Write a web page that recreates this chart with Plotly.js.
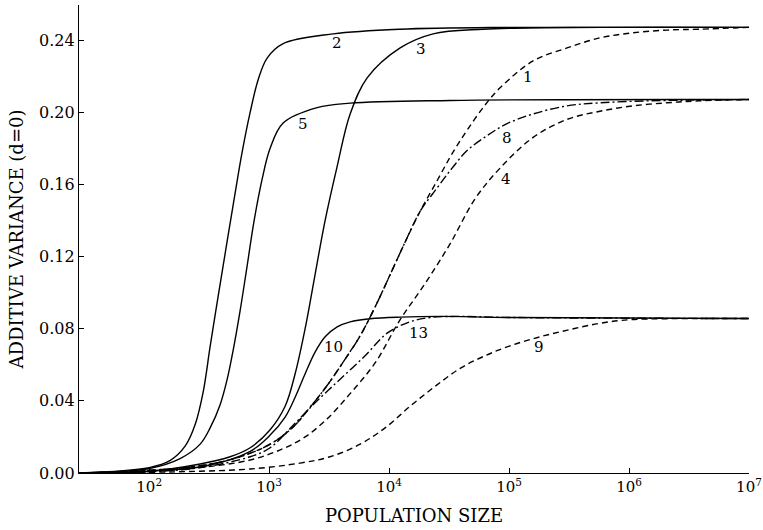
<!DOCTYPE html>
<html>
<head>
<meta charset="utf-8">
<script src="https://cdn.plot.ly/plotly-3.0.1.min.js"></script>
<style>html,body{margin:0;padding:0;background:#fff;}#chart{width:763px;height:530px;}</style>
</head>
<body>
<div id="chart"></div>
<script>
// Population size (N) and additive variance for each numbered curve
const n1 = [26, 100, 266, 573, 1019, 1585, 2197, 3043, 4285, 5731, 7638, 13600, 18120, 25120, 33500, 44670, 63100, 84140, 158500, 304300, 572800, 1080000, 2073000, 3905000, 1e7];
const v1 = [0, 0.0015, 0.004, 0.009, 0.016, 0.0255, 0.0365, 0.0485, 0.063, 0.076, 0.092, 0.128, 0.145, 0.162, 0.177, 0.19, 0.204, 0.2135, 0.2284, 0.2356, 0.2412, 0.244, 0.2455, 0.246, 0.247];

const n2 = [26, 100, 150, 200, 242, 282, 322, 376, 438, 511, 596, 695, 810, 962, 1309, 3415, 12360, 101900, 1e7];
const v2 = [0, 0.003, 0.007, 0.015, 0.027, 0.045, 0.07, 0.098, 0.125, 0.152, 0.178, 0.2, 0.218, 0.23, 0.238, 0.2434, 0.246, 0.247, 0.247];

const n3 = [26, 100, 266, 473, 695, 1019, 1359, 1647, 1995, 2415, 2929, 3690, 4732, 6561, 12360, 23270, 60720, 572800, 1e7];
const v3 = [0, 0.001, 0.005, 0.009, 0.014, 0.024, 0.037, 0.055, 0.08, 0.11, 0.14, 0.17, 0.199, 0.219, 0.2356, 0.2434, 0.246, 0.247, 0.247];

const n4 = [26, 100, 266, 695, 1309, 1995, 3043, 4732, 7638, 12360, 19950, 32210, 52100, 84140, 158500, 304300, 572800, 1080000, 2073000, 3905000, 1e7];
const v4 = [0, 0.0008, 0.003, 0.0072, 0.0135, 0.02, 0.03, 0.044, 0.061, 0.085, 0.105, 0.127, 0.152, 0.169, 0.186, 0.196, 0.2005, 0.2035, 0.2052, 0.2063, 0.207];

const n5 = [26, 100, 181, 266, 322, 391, 447, 501, 573, 656, 750, 875, 1019, 1309, 2512, 4732, 32210, 1e7];
const v5 = [0, 0.0025, 0.008, 0.016, 0.025, 0.038, 0.052, 0.068, 0.09, 0.115, 0.14, 0.163, 0.18, 0.194, 0.2025, 0.205, 0.2065, 0.207];

const n8 = [26, 100, 266, 573, 1019, 1585, 2197, 3043, 4285, 5731, 7638, 13600, 18120, 25120, 33500, 44670, 65600, 96190, 158500, 304300, 572800, 1496000, 1e7];
const v8 = [0, 0.0015, 0.004, 0.009, 0.016, 0.0255, 0.0365, 0.0485, 0.063, 0.076, 0.092, 0.128, 0.145, 0.158, 0.169, 0.1787, 0.187, 0.1936, 0.199, 0.2035, 0.2052, 0.2063, 0.207];

const n9 = [26, 100, 266, 695, 1812, 3222, 5731, 9260, 14960, 24150, 39060, 63100, 101900, 181300, 322400, 572800, 1020000, 3905000, 1e7];
const v9 = [0, 0.0004, 0.001, 0.0022, 0.0055, 0.009, 0.016, 0.025, 0.037, 0.048, 0.058, 0.065, 0.0705, 0.0755, 0.0795, 0.083, 0.085, 0.0856, 0.0856];

const n10 = [26, 100, 300, 695, 1019, 1359, 1647, 1995, 2415, 2929, 3690, 4732, 6950, 12360, 26610, 101900, 1e7];
const v10 = [0, 0.001, 0.004, 0.012, 0.021, 0.031, 0.042, 0.055, 0.067, 0.0755, 0.081, 0.0838, 0.0855, 0.0864, 0.0868, 0.0862, 0.0856];

const n13 = [26, 100, 266, 695, 1019, 1585, 2512, 3908, 6310, 9624, 14960, 21960, 35480, 101900, 1e7];
const v13 = [0, 0.0007, 0.003, 0.009, 0.014, 0.0265, 0.04, 0.052, 0.065, 0.0775, 0.0838, 0.0862, 0.0868, 0.0862, 0.0856];

// Curve labels and their positions
const labelText = ["2", "3", "1", "5", "8", "4", "10", "13", "9"];
const labelN = [3690, 18490, 143900, 1920, 96190, 94400, 3415, 17450, 177800];
const labelV = [0.2384, 0.2351, 0.2196, 0.1936, 0.1858, 0.1632, 0.0697, 0.0774, 0.0697];

// Axis ticks
const xTickVals = [1e2, 1e3, 1e4, 1e5, 1e6, 1e7];
const xTickText = ["10<sup>2</sup>", "10<sup>3</sup>", "10<sup>4</sup>", "10<sup>5</sup>", "10<sup>6</sup>", "10<sup>7</sup>"];
const yTickVals = [0, 0.04, 0.08, 0.12, 0.16, 0.20, 0.24];

const SOLID = "solid", DASH = "6px,4px", DASHDOT = "9px,3px,2px,3px";
function tr(x, y, dash, name) {
  return {x: x, y: y, type: "scatter", mode: "lines", name: name,
    line: {color: "#000", width: 1.4, dash: dash, shape: "spline", smoothing: 1},
    hoverinfo: "skip"};
}
const data = [
  tr(n9, v9, DASH, "9"),
  tr(n4, v4, DASH, "4"),
  tr(n13, v13, DASHDOT, "13"),
  tr(n10, v10, SOLID, "10"),
  tr(n8, v8, DASHDOT, "8"),
  tr(n1, v1, DASH, "1"),
  tr(n3, v3, SOLID, "3"),
  tr(n5, v5, SOLID, "5"),
  tr(n2, v2, SOLID, "2")
];

const serif = "DejaVu Serif";
const annotations = labelText.map((t, i) => ({
  x: Math.log10(labelN[i]), y: labelV[i], xref: "x", yref: "y", text: t,
  showarrow: false, font: {family: serif, size: 15, color: "#000"}
}));

const layout = {
  width: 763, height: 530,
  margin: {l: 79, r: 14, t: 5, b: 57},
  paper_bgcolor: "#fff", plot_bgcolor: "#fff",
  showlegend: false,
  font: {family: serif, color: "#000"},
  xaxis: {
    type: "log", range: [Math.log10(26), 7],
    tickvals: xTickVals, ticktext: xTickText,
    ticks: "inside", ticklen: 5, tickcolor: "#000", tickwidth: 1,
    showline: true, linecolor: "#000", linewidth: 1.2,
    showgrid: false, zeroline: false,
    tickfont: {family: serif, size: 15, color: "#000"},
    title: {text: "POPULATION SIZE", font: {family: serif, size: 18, color: "#000"}, standoff: 14},
    automargin: false
  },
  yaxis: {
    range: [0, 0.2594],
    tickvals: yTickVals, tickformat: ".2f",
    ticks: "inside", ticklen: 5, tickcolor: "#000", tickwidth: 1,
    showline: true, linecolor: "#000", linewidth: 1.2,
    showgrid: false, zeroline: false,
    tickfont: {family: serif, size: 16, color: "#000"},
    title: {text: "ADDITIVE VARIANCE (d=0)", font: {family: serif, size: 18, color: "#000"}, standoff: 10},
    automargin: false
  },
  annotations: annotations
};

Plotly.newPlot("chart", data, layout, {staticPlot: true, displayModeBar: false});
</script>
</body>
</html>
